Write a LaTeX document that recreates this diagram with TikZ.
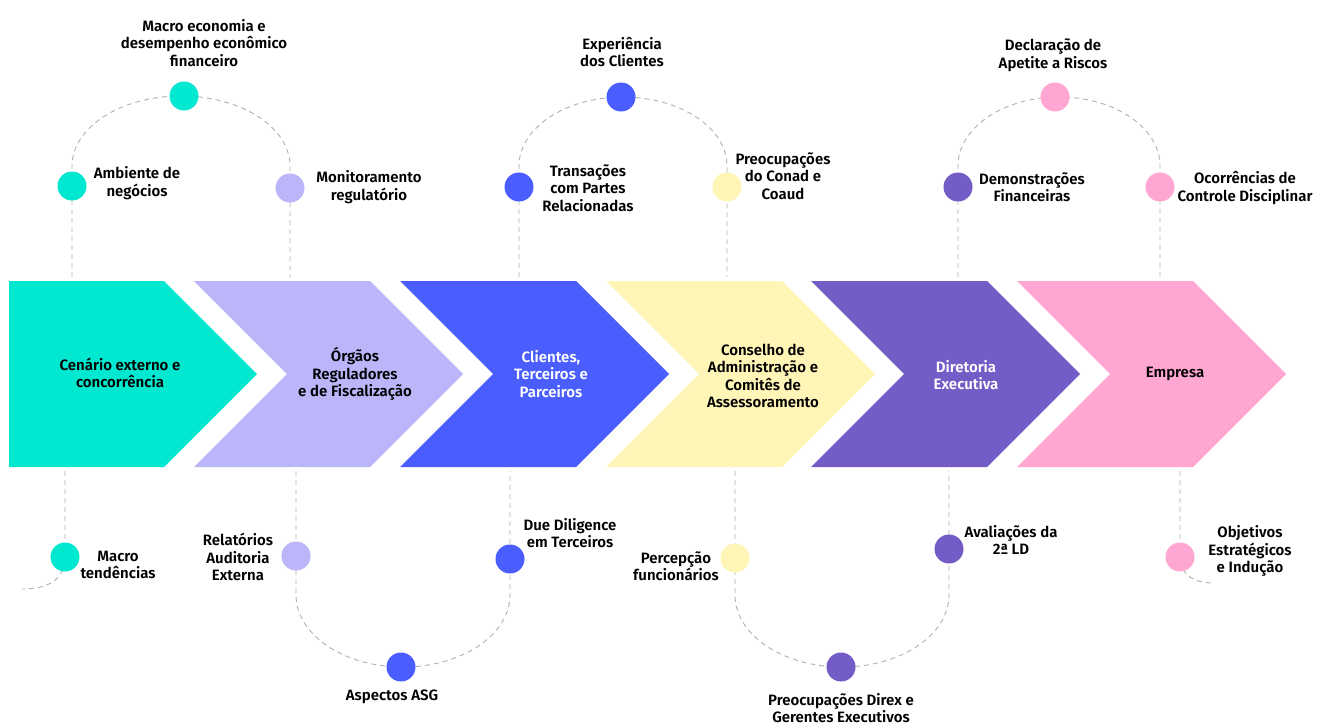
\documentclass[tikz,border=0pt]{standalone}
\usepackage{fontspec}
\setmainfont{Fira Sans}[BoldFont={Fira Sans SemiBold}]
\definecolor{cteal}{RGB}{0,232,208}
\definecolor{clav}{RGB}{187,181,250}
\definecolor{cblue}{RGB}{74,94,255}
\definecolor{cyel}{RGB}{255,245,183}
\definecolor{cpur}{RGB}{115,92,198}
\definecolor{cpink}{RGB}{255,166,210}
\definecolor{dashgray}{RGB}{176,176,176}
\begin{document}
\begin{tikzpicture}[x=1pt,y=-1pt,
  lbl/.style={font=\fontsize{15}{17.5}\selectfont\bfseries, align=center, inner sep=0pt, text=black},
  dot/.style={circle, minimum size=29pt, inner sep=0pt, fill=#1},
  dline/.style={draw=dashgray, dash pattern=on 5pt off 4pt, line width=0.9pt}]
\useasboundingbox (0,0) rectangle (1317,725);
\coordinate (topline) at (0,277);
\coordinate (botline) at (0,471);
% chevrons
\fill[cteal] (9,281) -- (164,281) -- (257,374) -- (164,467) -- (9,467) -- cycle;
\foreach \L/\c in {194/clav,400/cblue,606/cyel,811/cpur,1017/cpink}
  \fill[\c] (\L,281) -- (\L+176,281) -- (\L+269,374) -- (\L+176,467) -- (\L,467) -- (\L+93,374) -- cycle;
\node[lbl] (t1) at (120,373) {Cenário externo e\\concorrência};
\node[lbl] (t2) at (355,374) {Órgãos\\Reguladores\\e de Fiscalização};
\node[lbl,text=white] (t3) at (551,374) {Clientes,\\Terceiros e\\Parceiros};
\node[lbl] (t4) at (763,376) {Conselho de\\Administração e\\Comitês de\\Assessoramento};
\node[lbl,text=white] (t5) at (966,375) {Diretoria\\Executiva};
\node[lbl] (t6) at (1175,374) {Empresa};
% circle positions
\coordinate (p1) at (72,186);
\coordinate (p2) at (184,96);
\coordinate (p3) at (290,188);
\coordinate (p4) at (519,187);
\coordinate (p5) at (621,97);
\coordinate (p6) at (727,187);
\coordinate (p7) at (958,187);
\coordinate (p8) at (1055,97);
\coordinate (p9) at (1160,187);
\coordinate (p10) at (65,557);
\coordinate (p11) at (296,556);
\coordinate (p12) at (401,667);
\coordinate (p13) at (510,559);
\coordinate (p14) at (735,558);
\coordinate (p15) at (841,667);
\coordinate (p16) at (949,549);
\coordinate (p17) at (1180,557);
\coordinate (e1) at (22,589);
\coordinate (e2) at (1214,583);
% dashed connectors
\draw[dline] (p1 |- topline) -- (p1) -- ++(0,-20) arc[start angle=180,end angle=360,x radius=109,y radius=70] -- (p3) -- (p3 |- topline);
\draw[dline] (p4 |- topline) -- (p4) -- ++(0,-21) arc[start angle=180,end angle=360,x radius=104,y radius=69] -- (p6) -- (p6 |- topline);
\draw[dline] (p7 |- topline) -- (p7) -- ++(0,-21) arc[start angle=180,end angle=360,x radius=101,y radius=69] -- (p9) -- (p9 |- topline);
\draw[dline] (p10 |- botline) -- (p10) .. controls (65,581) and (46,589) .. (e1);
\draw[dline] (p11 |- botline) -- (p11) -- ++(0,39) arc[start angle=180,end angle=0,x radius=107,y radius=72] -- (p13) -- (p13 |- botline);
\draw[dline] (p14 |- botline) -- (p14) -- ++(0,37) arc[start angle=180,end angle=0,x radius=107,y radius=72] -- (p16) -- (p16 |- botline);
\draw[dline] (p17 |- botline) -- (p17) .. controls (1181,577) and (1196,583) .. (e2);
% circles
\node[dot=cteal] (c1) at (p1) {};
\node[dot=cteal] (c2) at (p2) {};
\node[dot=clav] (c3) at (p3) {};
\node[dot=cblue] (c4) at (p4) {};
\node[dot=cblue] (c5) at (p5) {};
\node[dot=cyel] (c6) at (p6) {};
\node[dot=cpur] (c7) at (p7) {};
\node[dot=cpink] (c8) at (p8) {};
\node[dot=cpink] (c9) at (p9) {};
\node[dot=cteal] (c10) at (p10) {};
\node[dot=clav] (c11) at (p11) {};
\node[dot=cblue] (c12) at (p12) {};
\node[dot=cblue] (c13) at (p13) {};
\node[dot=cyel] (c14) at (p14) {};
\node[dot=cpur] (c15) at (p15) {};
\node[dot=cpur] (c16) at (p16) {};
\node[dot=cpink] (c17) at (p17) {};
% labels
\node[lbl] (l1) at (137,183) {Ambiente de\\negócios};
\node[lbl] (l2) at (204,43) {Macro economia e\\desempenho econômico\\financeiro};
\node[lbl] (l3) at (369,187) {Monitoramento\\regulatório};
\node[lbl] (l4) at (588,188) {Transações\\com Partes\\Relacionadas};
\node[lbl] (l5) at (622,52) {Experiência\\dos Clientes};
\node[lbl] (l6) at (783,176) {Preocupações\\do Conad e\\Coaud};
\node[lbl] (l7) at (1032,187) {Demonstrações\\Financeiras};
\node[lbl] (l8) at (1053,55) {Declaração de\\Apetite a Riscos};
\node[lbl] (l9) at (1245,188) {Ocorrências de\\Controle Disciplinar};
\node[lbl] (l10) at (118,565) {Macro\\tendências};
\node[lbl] (l11) at (238,557) {Relatórios\\Auditoria\\Externa};
\node[lbl] (l12) at (392,697) {Aspectos ASG};
\node[lbl] (l13) at (570,533) {Due Diligence\\em Terceiros};
\node[lbl] (l14) at (676,566) {Percepção\\funcionários};
\node[lbl] (l15) at (841,708) {Preocupações Direx e\\Gerentes Executivos};
\node[lbl] (l16) at (1011,540) {Avaliações da\\2ª LD};
\node[lbl] (l17) at (1250,551) {Objetivos\\Estratégicos\\e Indução};
\end{tikzpicture}
\end{document}
